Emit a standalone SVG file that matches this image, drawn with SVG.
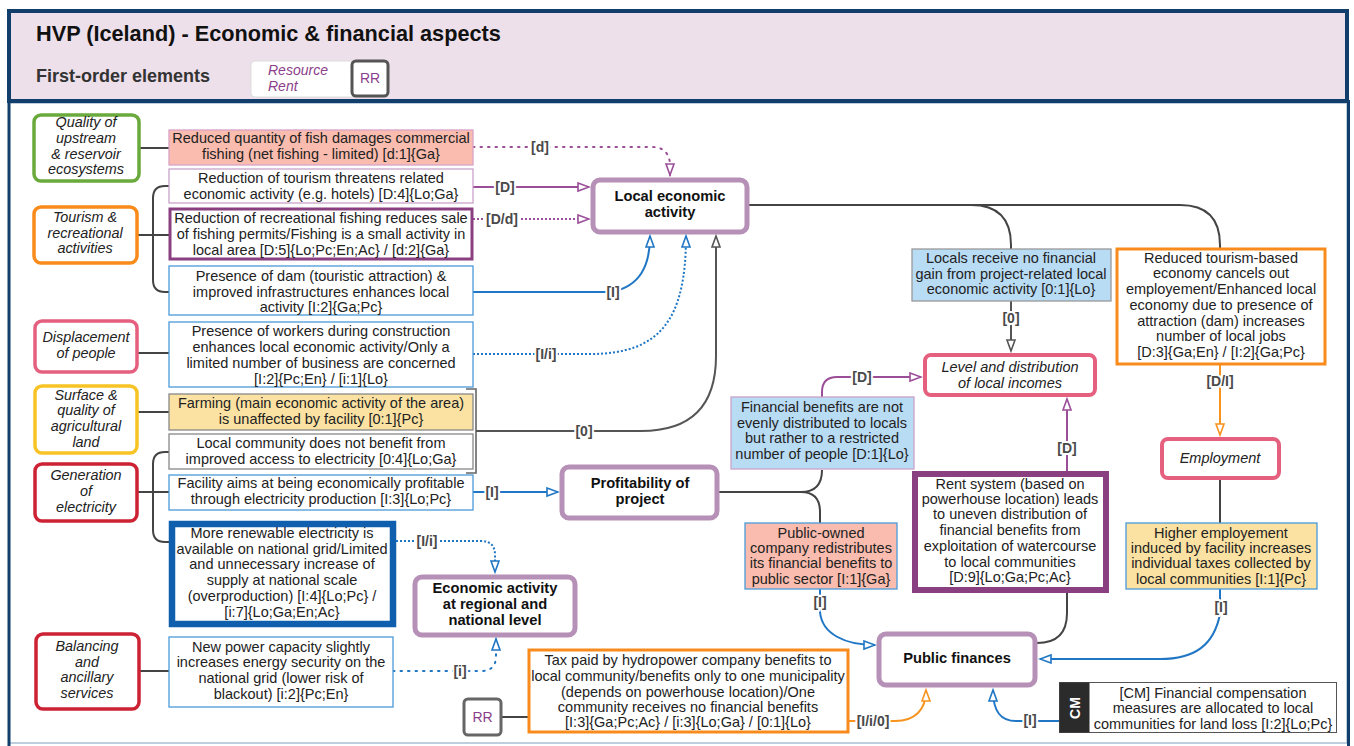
<svg xmlns="http://www.w3.org/2000/svg" width="1354" height="746" viewBox="0 0 1354 746">
  <style>
    text { font-family: "Liberation Sans", Arial, sans-serif; }
    .t { font-size: 14.5px; fill: #222; text-anchor: middle; }
    .cat { font-size: 14.4px; font-style: italic; fill: #222; text-anchor: middle; }
    .nb { font-size: 14.7px; font-weight: bold; fill: #111; text-anchor: middle; }
    .ni { font-size: 14.5px; font-style: italic; fill: #222; text-anchor: middle; }
    .lbl { font-size: 14px; font-weight: bold; fill: #4a4a4a; text-anchor: middle; dominant-baseline: central; stroke: #fff; stroke-width: 4px; paint-order: stroke; stroke-linejoin: round; }
    .tree { fill: none; stroke: #444; stroke-width: 2; }
    .gray { fill: none; stroke: #555; stroke-width: 2; }
    .pur { fill: none; stroke: #9b4e98; stroke-width: 2; }
    .blu { fill: none; stroke: #1f76c4; stroke-width: 2; }
    .org { fill: none; stroke: #f7931e; stroke-width: 2; }
    .dotd { stroke-dasharray: 2 2; }
    .dots { stroke-dasharray: 1.5 6; stroke-linecap: round; }
    .catbox { fill: #fff; stroke-width: 3.5; }
    .core { fill: #fff; stroke: #b690b6; stroke-width: 5; }
    .box { stroke-width: 1.3; }
  </style>
  <defs>
    <marker id="ah-pur" markerUnits="userSpaceOnUse" markerWidth="14" markerHeight="12" refX="12" refY="5" orient="auto">
      <path d="M1,1 L12,5 L1,9 Z" fill="#fff" stroke="#9b4e98" stroke-width="1.6"/>
    </marker>
    <marker id="ah-blu" markerUnits="userSpaceOnUse" markerWidth="14" markerHeight="12" refX="12" refY="5" orient="auto">
      <path d="M1,1 L12,5 L1,9 Z" fill="#fff" stroke="#1f76c4" stroke-width="1.6"/>
    </marker>
    <marker id="ah-gray" markerUnits="userSpaceOnUse" markerWidth="14" markerHeight="12" refX="12" refY="5" orient="auto">
      <path d="M1,1 L12,5 L1,9 Z" fill="#fff" stroke="#555" stroke-width="1.6"/>
    </marker>
    <marker id="ah-org" markerUnits="userSpaceOnUse" markerWidth="14" markerHeight="12" refX="12" refY="5" orient="auto">
      <path d="M1,1 L12,5 L1,9 Z" fill="#fff" stroke="#f7931e" stroke-width="1.6"/>
    </marker>
  </defs>

  <rect width="1354" height="746" fill="#fff"/>

  <!-- frame and header -->
  <g id="frame">
    <rect x="9" y="103" width="1338" height="640" fill="#fff" stroke="#a9bfd3" stroke-width="1.5"/>
    <line x1="9" y1="100" x2="9" y2="746" stroke="#123e6c" stroke-width="3"/>
    <line x1="1348.5" y1="100" x2="1348.5" y2="746" stroke="#123e6c" stroke-width="3"/>
    <rect x="9" y="11" width="1338" height="90" fill="#ede0ea" stroke="#123e6c" stroke-width="4"/>
    <text x="36" y="41" font-size="21.7" font-weight="bold" fill="#111">HVP (Iceland) - Economic &amp; financial aspects</text>
    <text x="36" y="82" font-size="18" font-weight="bold" fill="#333">First-order elements</text>
  </g>
  <g id="legend">
    <rect x="251" y="61" width="104" height="36" rx="4" fill="#fff" stroke="#ddd" stroke-width="1"/>
    <text x="268" y="75" font-size="14" font-style="italic" fill="#8b3f8b">Resource</text>
    <text x="268" y="91" font-size="14" font-style="italic" fill="#8b3f8b">Rent</text>
    <rect x="352" y="61" width="36" height="35" rx="4" fill="#fff" stroke="#555" stroke-width="3"/>
    <text x="370" y="83" font-size="14" fill="#8b3f8b" text-anchor="middle">RR</text>
  </g>

  <!-- connectors -->
  <g id="connectors">
    <!-- categories to impacts -->
    <path class="tree" d="M139,148 H169"/>
    <path class="tree" d="M137,235 H169 M169,186 H165 Q153,186 153,198 V280 Q153,292 165,292 H169"/>
    <path class="tree" d="M137,353 H169"/>
    <path class="tree" d="M137,412 H169"/>
    <path class="tree" d="M137,492 H169 M169,452 H165 Q153,452 153,464 V530 Q153,542 165,542 H169"/>
    <path class="tree" d="M139,671 H169"/>
    <path fill="none" stroke="#666" stroke-width="1.6" d="M466,389 H476 V473 H466"/>

    <!-- into Local economic activity -->
    <path class="pur dots" d="M473,147 H652 Q668,147 670,163 V175" marker-end="url(#ah-pur)"/>
    <path class="pur" d="M473,187 H589" marker-end="url(#ah-pur)"/>
    <path class="pur dotd" d="M473,219 H589" marker-end="url(#ah-pur)"/>
    <path class="blu" d="M473,292 H612 C640,286 650,266 650,236" marker-end="url(#ah-blu)"/>
    <path class="blu dotd" d="M473,354 H590 C660,354 686,320 686,236" marker-end="url(#ah-blu)"/>
    <path class="gray" d="M476,431 H641 Q716,431 716,356 V236" marker-end="url(#ah-gray)"/>

    <!-- into Profitability and regional level -->
    <path class="blu" d="M473,492 H558" marker-end="url(#ah-blu)"/>
    <path class="blu dotd" d="M396,541 H481 Q495,541 495,555 V572" marker-end="url(#ah-blu)"/>
    <path class="blu dots" d="M393,671 H481 Q496,671 496,656 V639" marker-end="url(#ah-blu)"/>

    <!-- Local economic activity fan-out -->
    <path class="tree" d="M749,205 H1180 Q1220,205 1220,245 V248 M971,205 Q1011,205 1011,245 V249"/>
    <path class="gray" d="M1011,301 V351" marker-end="url(#ah-gray)"/>
    <path class="org" d="M1220,365 V435" marker-end="url(#ah-org)"/>

    <!-- Profitability fan-out -->
    <path class="tree" d="M719,492 H801 Q822,492 822,470 M801,492 Q820,492 820,512 V523"/>
    <path class="pur" d="M822,397 V392 Q822,377 837,377 H921" marker-end="url(#ah-pur)"/>
    <path class="pur" d="M1067,471 V399" marker-end="url(#ah-pur)"/>
    <path class="tree" d="M1067,593 V613 Q1067,643 1037,643"/>
    <path class="tree" d="M1220,480 V523"/>

    <!-- into Public finances -->
    <path class="blu" d="M1220,589 V614 C1214,645 1195,659 1160,659 H1040" marker-end="url(#ah-blu)"/>
    <path class="blu" d="M820,589 V612 C822,634 845,645 875,645" marker-end="url(#ah-blu)"/>
    <path class="org" d="M849,721 H895 C915,721 926,710 926,690" marker-end="url(#ah-org)"/>
    <path class="blu" d="M1059,721 H1016 C1001,721 993,712 993,690" marker-end="url(#ah-blu)"/>
    <path class="tree" d="M502,717 H528"/>

    <!-- labels -->
    <text class="lbl" x="540" y="147">[d]</text>
    <text class="lbl" x="505" y="187">[D]</text>
    <text class="lbl" x="502" y="219">[D/d]</text>
    <text class="lbl" x="613" y="292">[I]</text>
    <text class="lbl" x="546" y="354">[I/i]</text>
    <text class="lbl" x="584" y="431">[0]</text>
    <text class="lbl" x="492" y="492">[I]</text>
    <text class="lbl" x="427" y="541">[I/i]</text>
    <text class="lbl" x="460" y="671">[i]</text>
    <text class="lbl" x="1011" y="318">[0]</text>
    <text class="lbl" x="1220" y="381">[D/I]</text>
    <text class="lbl" x="862" y="377">[D]</text>
    <text class="lbl" x="1067" y="448">[D]</text>
    <text class="lbl" x="1221" y="607">[I]</text>
    <text class="lbl" x="820" y="602">[I]</text>
    <text class="lbl" x="873" y="721">[I/i/0]</text>
    <text class="lbl" x="1030" y="720">[I]</text>
  </g>

  <!-- first-order categories -->
  <g id="cat-ecosystems">
    <rect class="catbox" x="34" y="115" width="105" height="66" rx="7" stroke="#6aaa3c"/>
    <text class="cat"><tspan x="86" y="127">Quality of</tspan><tspan x="86" y="143">upstream</tspan><tspan x="86" y="159">&amp; reservoir</tspan><tspan x="86" y="174">ecosystems</tspan></text>
  </g>
  <g id="cat-tourism">
    <rect class="catbox" x="34" y="207" width="103" height="56" rx="7" stroke="#f98b1c"/>
    <text class="cat"><tspan x="85" y="222">Tourism &amp;</tspan><tspan x="85" y="238">recreational</tspan><tspan x="85" y="253">activities</tspan></text>
  </g>
  <g id="cat-displacement">
    <rect class="catbox" x="35" y="321" width="102" height="51" rx="7" stroke="#e5607e"/>
    <text class="cat"><tspan x="86" y="342">Displacement</tspan><tspan x="86" y="358">of people</tspan></text>
  </g>
  <g id="cat-land">
    <rect class="catbox" x="35" y="386" width="102" height="67" rx="7" stroke="#f7c325"/>
    <text class="cat"><tspan x="86" y="400">Surface &amp;</tspan><tspan x="86" y="415">quality of</tspan><tspan x="86" y="431">agricultural</tspan><tspan x="86" y="447">land</tspan></text>
  </g>
  <g id="cat-generation">
    <rect class="catbox" x="35" y="464" width="102" height="57" rx="7" stroke="#cc2233"/>
    <text class="cat"><tspan x="86" y="480">Generation</tspan><tspan x="86" y="496">of</tspan><tspan x="86" y="512">electricity</tspan></text>
  </g>
  <g id="cat-balancing">
    <rect class="catbox" x="36" y="634" width="103" height="75" rx="7" stroke="#cc2233"/>
    <text class="cat"><tspan x="87" y="651">Balancing</tspan><tspan x="87" y="667">and</tspan><tspan x="87" y="682">ancillary</tspan><tspan x="87" y="698">services</tspan></text>
  </g>

  <!-- impacts, left column -->
  <g id="imp-fish">
    <rect class="box" x="169" y="130" width="304" height="35" fill="#f9bcae" stroke="#d9a3c6"/>
    <text class="t"><tspan x="321" y="143">Reduced quantity of fish damages commercial</tspan><tspan x="321" y="159">fishing (net fishing - limited) [d:1]{Ga}</tspan></text>
  </g>
  <g id="imp-tourism">
    <rect class="box" x="169" y="169" width="304" height="34" fill="#fff" stroke="#c9a2c9"/>
    <text class="t"><tspan x="321" y="183">Reduction of tourism threatens related</tspan><tspan x="321" y="199">economic activity (e.g. hotels) [D:4]{Lo;Ga}</tspan></text>
  </g>
  <g id="imp-recfishing">
    <rect x="170" y="209" width="302" height="50" fill="#fff" stroke="#8a3f80" stroke-width="3"/>
    <text class="t"><tspan x="321" y="223">Reduction of recreational fishing reduces sale</tspan><tspan x="321" y="239">of fishing permits/Fishing is a small activity in</tspan><tspan x="321" y="255">local area [D:5]{Lo;Pc;En;Ac} / [d:2]{Ga}</tspan></text>
  </g>
  <g id="imp-dam">
    <rect class="box" x="169" y="266" width="304" height="49" fill="#fff" stroke="#4a9ad8"/>
    <text class="t"><tspan x="321" y="281">Presence of dam (touristic attraction) &amp;</tspan><tspan x="321" y="297">improved infrastructures enhances local</tspan><tspan x="321" y="312">activity [I:2]{Ga;Pc}</tspan></text>
  </g>
  <g id="imp-workers">
    <rect class="box" x="169" y="322" width="304" height="65" fill="#fff" stroke="#4a9ad8"/>
    <text class="t"><tspan x="321" y="336">Presence of workers during construction</tspan><tspan x="321" y="352">enhances local economic activity/Only a</tspan><tspan x="321" y="368">limited number of business are concerned</tspan><tspan x="321" y="384">[I:2]{Pc;En} / [i:1]{Lo}</tspan></text>
  </g>
  <g id="imp-farming">
    <rect class="box" x="169" y="394" width="304" height="36" fill="#fbe2a2" stroke="#888"/>
    <text class="t"><tspan x="321" y="408">Farming (main economic activity of the area)</tspan><tspan x="321" y="424">is unaffected by facility [0:1]{Pc}</tspan></text>
  </g>
  <g id="imp-access">
    <rect class="box" x="169" y="434" width="304" height="35" fill="#fff" stroke="#888"/>
    <text class="t"><tspan x="321" y="448">Local community does not benefit from</tspan><tspan x="321" y="464">improved access to electricity [0:4]{Lo;Ga}</tspan></text>
  </g>
  <g id="imp-profitable">
    <rect class="box" x="169" y="475" width="304" height="35" fill="#fff" stroke="#4a9ad8"/>
    <text class="t"><tspan x="321" y="488">Facility aims at being economically profitable</tspan><tspan x="321" y="504">through electricity production [I:3]{Lo;Pc}</tspan></text>
  </g>
  <g id="imp-renewable">
    <rect x="172" y="524" width="221" height="100" fill="#fff" stroke="#0f5fae" stroke-width="6.5"/>
    <text class="t"><tspan x="282" y="538">More renewable electricity is</tspan><tspan x="282" y="554">available on national grid/Limited</tspan><tspan x="282" y="569">and unnecessary increase of</tspan><tspan x="282" y="585">supply at national scale</tspan><tspan x="282" y="601">(overproduction) [I:4]{Lo;Pc} /</tspan><tspan x="282" y="617">[i:7]{Lo;Ga;En;Ac}</tspan></text>
  </g>
  <g id="imp-security">
    <rect class="box" x="169" y="637" width="224" height="70" fill="#fff" stroke="#4a9ad8"/>
    <text class="t"><tspan x="281" y="652">New power capacity slightly</tspan><tspan x="281" y="667">increases energy security on the</tspan><tspan x="281" y="683">national grid (lower risk of</tspan><tspan x="281" y="699">blackout) [i:2]{Pc;En}</tspan></text>
  </g>

  <!-- core elements -->
  <g id="node-local-economy">
    <rect class="core" x="593" y="180" width="154" height="52" rx="7"/>
    <text class="nb"><tspan x="670" y="201">Local economic</tspan><tspan x="670" y="217">activity</tspan></text>
  </g>
  <g id="node-profitability">
    <rect class="core" x="562" y="467" width="155" height="51" rx="7"/>
    <text class="nb"><tspan x="640" y="488">Profitability of</tspan><tspan x="640" y="504">project</tspan></text>
  </g>
  <g id="node-regional">
    <rect class="core" x="415" y="577" width="160" height="58" rx="7"/>
    <text class="nb"><tspan x="495" y="593">Economic activity</tspan><tspan x="495" y="609">at regional and</tspan><tspan x="495" y="625">national level</tspan></text>
  </g>
  <g id="node-public-finances">
    <rect class="core" x="879" y="634" width="156" height="51" rx="7"/>
    <text class="nb" x="957" y="663">Public finances</text>
  </g>
  <g id="node-incomes">
    <rect x="925" y="355" width="170" height="40" rx="6" fill="#fff" stroke="#e5607e" stroke-width="4"/>
    <text class="ni"><tspan x="1010" y="372">Level and distribution</tspan><tspan x="1010" y="388">of local incomes</tspan></text>
  </g>
  <g id="node-employment">
    <rect x="1162" y="439" width="117" height="39" rx="6" fill="#fff" stroke="#e5607e" stroke-width="4"/>
    <text class="ni" x="1220" y="463">Employment</text>
  </g>

  <!-- impacts, right side -->
  <g id="imp-no-gain">
    <rect class="box" x="912" y="249" width="199" height="52" fill="#b9dcf5" stroke="#999"/>
    <text class="t"><tspan x="1011" y="263">Locals receive no financial</tspan><tspan x="1011" y="279">gain from project-related local</tspan><tspan x="1011" y="294">economic activity [0:1]{Lo}</tspan></text>
  </g>
  <g id="imp-jobs">
    <rect x="1117" y="249" width="208" height="115" fill="#fff" stroke="#f98b1c" stroke-width="3"/>
    <text class="t"><tspan x="1221" y="263">Reduced tourism-based</tspan><tspan x="1221" y="278">economy cancels out</tspan><tspan x="1221" y="294">employement/Enhanced local</tspan><tspan x="1221" y="310">economy due to presence of</tspan><tspan x="1221" y="326">attraction (dam) increases</tspan><tspan x="1221" y="341">number of local jobs</tspan><tspan x="1221" y="357">[D:3]{Ga;En} / [I:2]{Ga;Pc}</tspan></text>
  </g>
  <g id="imp-uneven">
    <rect class="box" x="731" y="397" width="183" height="72" fill="#b9dcf5" stroke="#c9a2c9"/>
    <text class="t"><tspan x="822" y="412">Financial benefits are not</tspan><tspan x="822" y="428">evenly distributed to locals</tspan><tspan x="822" y="443">but rather to a restricted</tspan><tspan x="822" y="459">number of people [D:1]{Lo}</tspan></text>
  </g>
  <g id="imp-public-owned">
    <rect class="box" x="745" y="523" width="152" height="66" fill="#f9bcae" stroke="#4a9ad8"/>
    <text class="t"><tspan x="821" y="538">Public-owned</tspan><tspan x="821" y="553">company redistributes</tspan><tspan x="821" y="568">its financial benefits to</tspan><tspan x="821" y="584">public sector [I:1]{Ga}</tspan></text>
  </g>
  <g id="imp-rent">
    <rect x="915" y="474" width="191" height="116" fill="#fff" stroke="#8a3f80" stroke-width="6"/>
    <text class="t"><tspan x="1010" y="489">Rent system (based on</tspan><tspan x="1010" y="504">powerhouse location) leads</tspan><tspan x="1010" y="519">to uneven distribution of</tspan><tspan x="1010" y="535">financial benefits from</tspan><tspan x="1010" y="551">exploitation of watercourse</tspan><tspan x="1010" y="567">to local communities</tspan><tspan x="1010" y="582">[D:9]{Lo;Ga;Pc;Ac}</tspan></text>
  </g>
  <g id="imp-taxes">
    <rect class="box" x="1126" y="523" width="191" height="66" fill="#fbe2a2" stroke="#4a9ad8"/>
    <text class="t"><tspan x="1221" y="538">Higher employement</tspan><tspan x="1221" y="553">induced by facility increases</tspan><tspan x="1221" y="568">individual taxes collected by</tspan><tspan x="1221" y="584">local communities [I:1]{Pc}</tspan></text>
  </g>
  <g id="imp-tax-paid">
    <rect x="529" y="650" width="319" height="82" fill="#fff" stroke="#f98b1c" stroke-width="3"/>
    <text class="t"><tspan x="688" y="665">Tax paid by hydropower company benefits to</tspan><tspan x="688" y="681">local community/benefits only to one municipality</tspan><tspan x="688" y="697">(depends on powerhouse location)/One</tspan><tspan x="688" y="712">community receives no financial benefits</tspan><tspan x="688" y="727">[I:3]{Ga;Pc;Ac} / [i:3]{Lo;Ga} / [0:1]{Lo}</tspan></text>
  </g>
  <g id="node-rr">
    <rect x="464" y="699" width="37" height="36" rx="4" fill="#fff" stroke="#666" stroke-width="3"/>
    <text x="482.5" y="722" font-size="14" fill="#8b3f8b" text-anchor="middle">RR</text>
  </g>
  <g id="imp-compensation">
    <rect x="1059.5" y="682.5" width="277" height="50" fill="#fff" stroke="#555" stroke-width="1"/>
    <rect x="1059.5" y="682.5" width="30" height="50" fill="#2b2b2b"/>
    <text x="1075" y="708" font-size="14" font-weight="bold" fill="#fff" text-anchor="middle" dominant-baseline="central" transform="rotate(-90 1075 708)">CM</text>
    <text class="t"><tspan x="1213" y="698">[CM] Financial compensation</tspan><tspan x="1213" y="713">measures are allocated to local</tspan><tspan x="1213" y="729">communities for land loss [I:2]{Lo;Pc}</tspan></text>
  </g>
</svg>
